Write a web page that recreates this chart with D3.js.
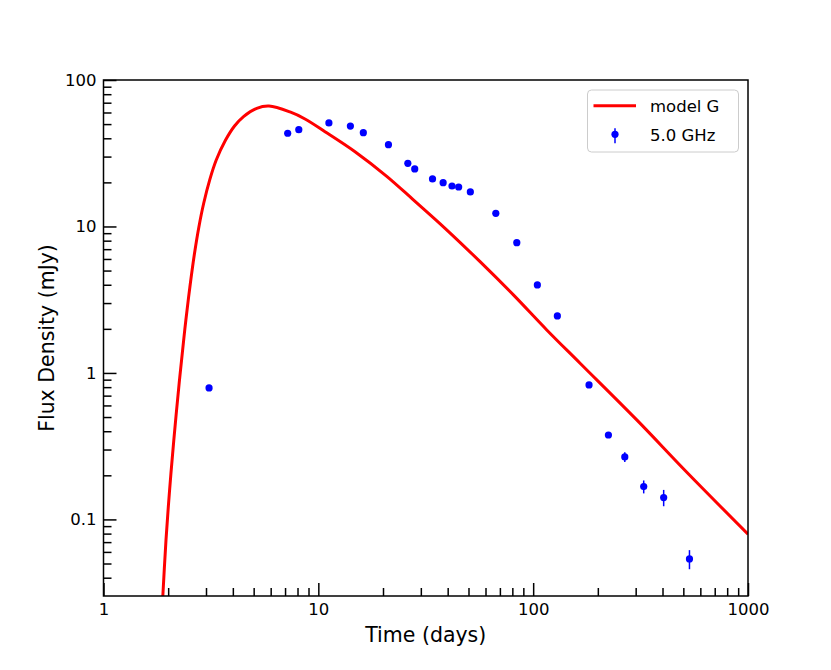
<!DOCTYPE html>
<html>
<head>
<meta charset="utf-8">
<script src="https://cdn.jsdelivr.net/npm/d3@7"></script>
<style>
  body { margin: 0; background: #ffffff; }
  text { font-family: "DejaVu Sans", sans-serif; fill: #000; }
</style>
</head>
<body>
<div id="chart"></div>
<script>

// observed 5.0 GHz points (days, mJy, error)
var obs_days = [3.10, 7.20, 8.11, 11.2, 14.1, 16.2, 21.2, 26.1, 28.1, 34.0, 38.1, 41.9,
                45.0, 51.0, 67.0, 83.9, 104.6, 129.6, 182, 224, 267, 327, 405, 534];
var obs_flux = [0.79, 43.3, 45.8, 50.9, 48.5, 43.7, 36.2, 27.0, 24.7, 21.1, 19.9, 18.9,
                18.6, 17.2, 12.3, 7.75, 3.99, 2.45, 0.828, 0.377, 0.267, 0.1675, 0.141, 0.0537];
var obs_err  = [0.03, 1.5, 1.5, 1.6, 1.5, 1.3, 1.1, 0.8, 0.8, 0.6, 0.6, 0.6,
                0.6, 0.5, 0.4, 0.25, 0.12, 0.08, 0.03, 0.015, 0.02, 0.017, 0.018, 0.008];

// model G curve
var model_days = [1.876, 1.954, 2.031, 2.125, 2.251, 2.362, 2.418, 2.525, 2.653, 2.781,
                  2.927, 3.122, 3.348, 3.690, 4.073, 4.485, 5.168, 5.894, 7.38, 8.67,
                  10.74, 14.82, 20.82, 27.69, 38.89, 56.6, 80.9, 115.7, 165.3, 303.5, 519, 1000];
var model_flux = [0.025, 0.0724, 0.159, 0.349, 0.855, 1.68, 2.30, 3.88, 6.57, 9.97,
                  14.4, 20.8, 28.4, 38.6, 48.5, 56.3, 64.1, 66.4, 60.5, 54.2,
                  44.4, 32.4, 22.0, 15.2, 9.72, 5.75, 3.41, 1.966, 1.165, 0.478, 0.21, 0.0793];

var x_ticks = [1, 10, 100, 1000];
var y_ticks = [0.1, 1, 10, 100];

var width = 831, height = 670;
var margin = {top: 80, right: 83, bottom: 74, left: 103.5};
var w = width - margin.left - margin.right,
    h = height - margin.top - margin.bottom;

var svg = d3.select("#chart").append("svg")
    .attr("width", width)
    .attr("height", height);

var g = svg.append("g")
    .attr("transform", "translate(" + margin.left + "," + margin.top + ")");

var x = d3.scaleLog().domain([1, 1000]).range([0, w]);
var y = d3.scaleLog().domain([0.03, 100]).range([h, 0]);

// minor ticks
var x_minor = [], y_minor = [];
[1, 10, 100].forEach(function(p){
    for (var k = 2; k < 10; k++) x_minor.push(p * k);
});
[0.01, 0.1, 1, 10].forEach(function(p){
    for (var k = 2; k < 10; k++) {
        var v = p * k;
        if (v > 0.03 && v < 100) y_minor.push(v);
    }
});

g.append("clipPath").attr("id", "clip")
    .append("rect").attr("width", w).attr("height", h);

// model line
var line = d3.line()
    .x(function(d){ return x(d[0]); })
    .y(function(d){ return y(d[1]); })
    .curve(d3.curveCatmullRom.alpha(0.5));

g.append("path")
    .datum(model_days.map(function(d, i){ return [d, model_flux[i]]; }))
    .attr("clip-path", "url(#clip)")
    .attr("d", line)
    .attr("fill", "none")
    .attr("stroke", "#ff0000")
    .attr("stroke-width", 3);

// data points with error bars
var pts = obs_days.map(function(d, i){ return {t: d, f: obs_flux[i], e: obs_err[i]}; });

g.selectAll(".ebar")
    .data(pts).enter().append("line")
    .attr("class", "ebar")
    .attr("x1", function(d){ return x(d.t); })
    .attr("x2", function(d){ return x(d.t); })
    .attr("y1", function(d){ return y(d.f + d.e); })
    .attr("y2", function(d){ return y(d.f - d.e); })
    .attr("stroke", "#0000ff")
    .attr("stroke-width", 1.5);

g.selectAll(".dot")
    .data(pts).enter().append("circle")
    .attr("class", "dot")
    .attr("cx", function(d){ return x(d.t); })
    .attr("cy", function(d){ return y(d.f); })
    .attr("r", 3.6)
    .attr("fill", "#0000ff");

// axes, ticks inward
var fmt = function(d){ return d3.format("~g")(d); };

g.append("g")
    .attr("transform", "translate(0," + h + ")")
    .call(d3.axisBottom(x).tickValues(x_ticks).tickSize(-13).tickPadding(7).tickFormat(fmt));
g.append("g")
    .attr("transform", "translate(0," + h + ")")
    .call(d3.axisBottom(x).tickValues(x_minor).tickSize(-8).tickFormat(""));

g.append("g")
    .call(d3.axisLeft(y).tickValues(y_ticks).tickSize(-13).tickPadding(7).tickFormat(fmt));
g.append("g")
    .call(d3.axisLeft(y).tickValues(y_minor).tickSize(-8).tickFormat(""));

g.selectAll(".domain").remove();
g.selectAll(".tick line").attr("stroke", "#000").attr("stroke-width", 1.5);
g.selectAll(".tick text").attr("font-size", "16.5px").attr("fill", "#000")
    .style("font-family", "DejaVu Sans, sans-serif");

// frame
g.append("rect")
    .attr("width", w).attr("height", h)
    .attr("fill", "none")
    .attr("stroke", "#000")
    .attr("stroke-width", 1.5);

// labels
svg.append("text")
    .attr("x", margin.left + w / 2)
    .attr("y", 641.5)
    .attr("text-anchor", "middle")
    .attr("font-size", "20.5px")
    .text("Time (days)");

svg.append("text")
    .attr("transform", "translate(54," + (margin.top + h / 2) + ") rotate(-90)")
    .attr("text-anchor", "middle")
    .attr("font-size", "20.5px")
    .text("Flux Density (mJy)");

// legend
var lg = svg.append("g").attr("transform", "translate(587.5,90)");
lg.append("rect")
    .attr("width", 151).attr("height", 62)
    .attr("rx", 4)
    .attr("fill", "#fff")
    .attr("fill-opacity", 0.8)
    .attr("stroke", "#cccccc")
    .attr("stroke-width", 1);
lg.append("line")
    .attr("x1", 6).attr("x2", 48.5)
    .attr("y1", 15.7).attr("y2", 15.7)
    .attr("stroke", "#ff0000").attr("stroke-width", 3);
lg.append("text").attr("x", 62.5).attr("y", 21.7)
    .attr("font-size", "16.5px").text("model G");
lg.append("line")
    .attr("x1", 27.5).attr("x2", 27.5)
    .attr("y1", 38.3).attr("y2", 53.3)
    .attr("stroke", "#0000ff").attr("stroke-width", 1.5);
lg.append("circle")
    .attr("cx", 27.5).attr("cy", 44.3).attr("r", 3.6)
    .attr("fill", "#0000ff");
lg.append("text").attr("x", 62.5).attr("y", 50.7)
    .attr("font-size", "16.5px").text("5.0 GHz");

</script>
</body>
</html>
